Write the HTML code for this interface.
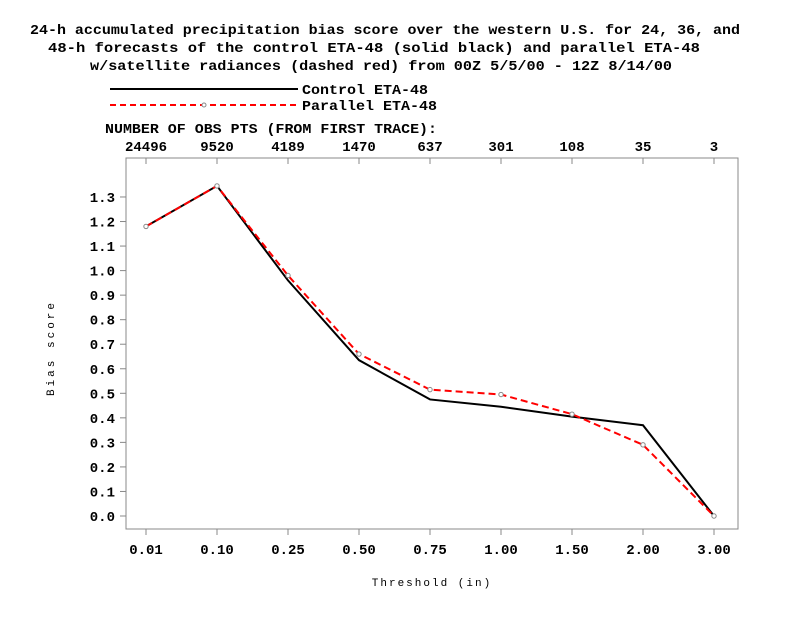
<!DOCTYPE html>
<html><head><meta charset="utf-8"><style>
body{margin:0;background:#fff;}
svg text{font-family:"Liberation Mono",monospace;font-weight:bold;fill:#000;}
</style></head><body>
<svg width="792" height="612" xmlns="http://www.w3.org/2000/svg">
<g font-size="14">
<text x="30" y="34" textLength="710" lengthAdjust="spacingAndGlyphs">24-h accumulated precipitation bias score over the western U.S. for 24, 36, and</text>
<text x="48" y="52" textLength="652" lengthAdjust="spacingAndGlyphs">48-h forecasts of the control ETA-48 (solid black) and parallel ETA-48</text>
<text x="90" y="70" textLength="582" lengthAdjust="spacingAndGlyphs">w/satellite radiances (dashed red) from 00Z 5/5/00 - 12Z 8/14/00</text>
</g>
<g>
<line x1="110" y1="89" x2="298" y2="89" stroke="#000" stroke-width="2"/>
<text x="302" y="94" font-size="14" textLength="126" lengthAdjust="spacingAndGlyphs">Control ETA-48</text>
<line x1="110" y1="105" x2="298" y2="105" stroke="#f00" stroke-width="2" stroke-dasharray="6,4"/>
<circle cx="204" cy="105" r="2" fill="#fff" stroke="#888"/>
<text x="302" y="110" font-size="14" textLength="135" lengthAdjust="spacingAndGlyphs">Parallel ETA-48</text>
</g>
<text x="105" y="133" font-size="14" textLength="332" lengthAdjust="spacingAndGlyphs">NUMBER OF OBS PTS (FROM FIRST TRACE):</text>
<rect x="126" y="158" width="612" height="371" fill="none" stroke="#888" stroke-width="1"/>
<g id="ticks"></g>
<g id="series"></g>
<text x="54" y="348" font-size="11" letter-spacing="3" text-anchor="middle" transform="rotate(-90 54 348)" style="font-weight:normal">Bias score</text>
<text x="432" y="586" font-size="11" letter-spacing="2" text-anchor="middle" style="font-weight:normal">Threshold (in)</text>
</svg>
<script>
const categories=["0.01","0.10","0.25","0.50","0.75","1.00","1.50","2.00","3.00"];
const obsCounts=["24496","9520","4189","1470","637","301","108","35","3"];
const controlValues=[1.18,1.345,0.96,0.635,0.475,0.445,0.405,0.37,0.0];
const parallelValues=[1.18,1.345,0.98,0.66,0.515,0.495,0.415,0.29,0.0];
const yTicks=[0,0.1,0.2,0.3,0.4,0.5,0.6,0.7,0.8,0.9,1.0,1.1,1.2,1.3];
const NS="http://www.w3.org/2000/svg";
function xs(i){return 146+i*71;}
function ys(v){return 516-v*245.4;}
function mk(t,a,p){const e=document.createElementNS(NS,t);for(const k in a)e.setAttribute(k,a[k]);p.appendChild(e);return e;}
const tk=document.getElementById('ticks');
yTicks.forEach(v=>{
 const y=ys(v);
 mk('line',{x1:120,y1:y,x2:126,y2:y,stroke:'#888'},tk);
 const t=mk('text',{x:115,y:y+5,'font-size':14,'text-anchor':'end'},tk);
 
 
 t.textContent=v.toFixed(1);
});
categories.forEach((c,i)=>{
 const x=xs(i);
 mk('line',{x1:x,y1:529,x2:x,y2:535,stroke:'#888'},tk);
 mk('line',{x1:x,y1:158,x2:x,y2:164,stroke:'#888'},tk);
 const t=mk('text',{x:x,y:554,'font-size':14,'text-anchor':'middle'},tk);
 
 
 t.textContent=c;
 const o=mk('text',{x:x,y:151,'font-size':14,'text-anchor':'middle'},tk);
 
 
 o.textContent=obsCounts[i];
});
const sg=document.getElementById('series');
const pc=mk('polyline',{points:controlValues.map((v,i)=>xs(i)+','+ys(v)).join(' '),fill:'none',stroke:'#000','stroke-width':2},sg);


const pp=mk('polyline',{points:parallelValues.map((v,i)=>xs(i)+','+ys(v)).join(' '),fill:'none',stroke:'#f00','stroke-width':2,'stroke-dasharray':'7,4'},sg);


parallelValues.forEach((v,i)=>{
 const c=mk('circle',{cx:xs(i),cy:ys(v),r:2.2,fill:'#fff',stroke:'#888'},sg);
 
 
});
</script>
</body></html>
